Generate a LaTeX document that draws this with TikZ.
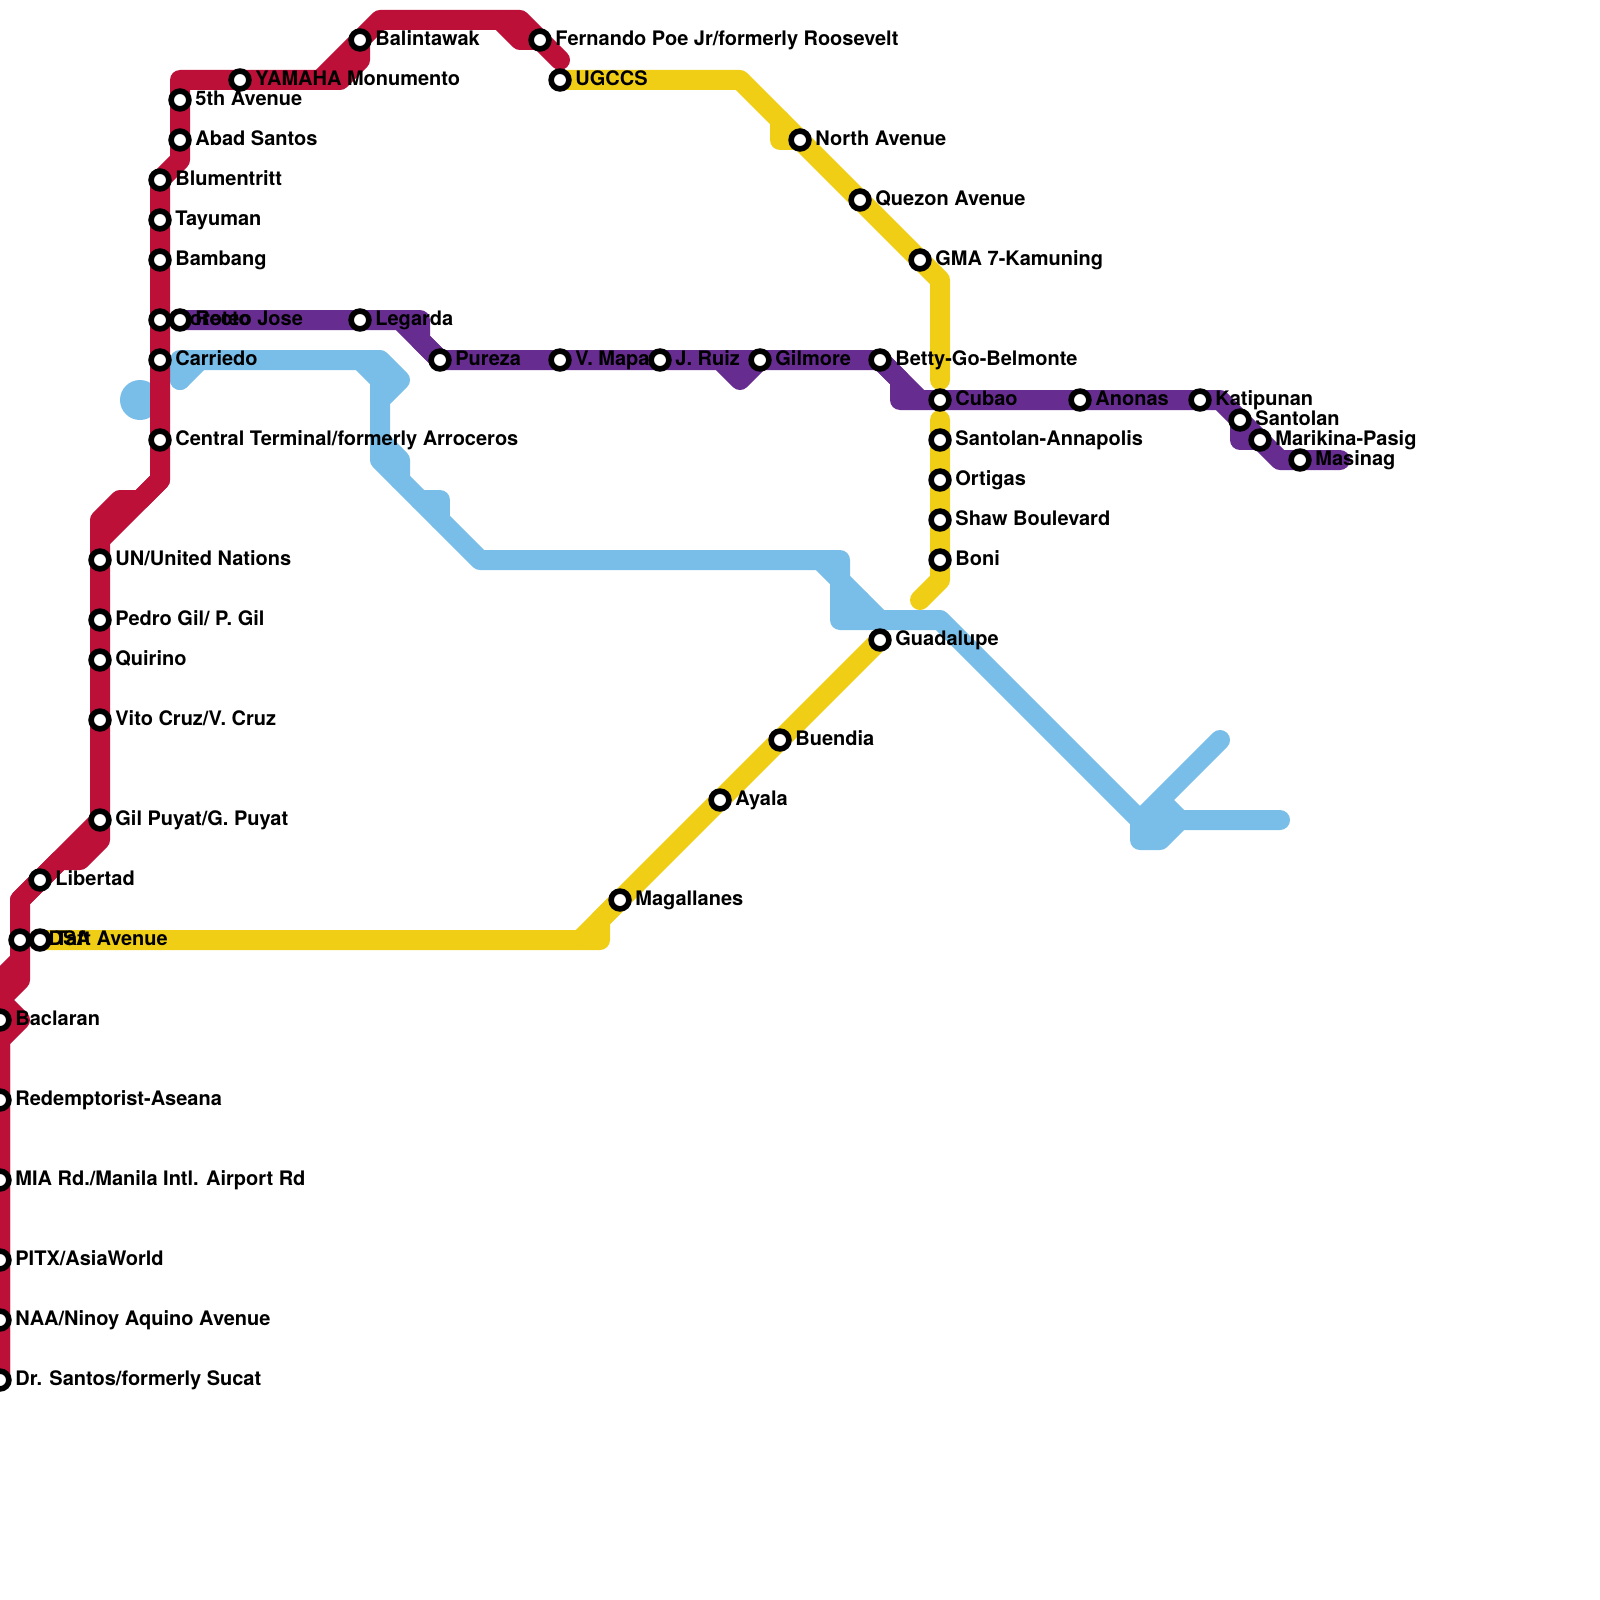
\documentclass[tikz,border=0pt]{standalone}
\usepackage{fontspec}
\setmainfont{TeX Gyre Heros}
\usepackage{tikz}
\usetikzlibrary{positioning,backgrounds}
\definecolor{lrtred}{HTML}{BD1038}
\definecolor{lrtpurple}{HTML}{662C90}
\definecolor{lrtyellow}{HTML}{F0CE15}
\definecolor{lrtblue}{HTML}{79BDE9}

\begin{document}
\begin{tikzpicture}[
  x=1pt, y=-1pt,
  node distance=3.5pt,
  stn/.style={circle, draw=black, fill=white, line width=5.6pt, minimum size=17.8pt, inner sep=0pt},
  lbl/.style={font=\fontsize{20}{22}\selectfont\bfseries, inner sep=0pt, text height=14pt, text depth=3pt},
  metro/.style={line width=20pt, line cap=round, line join=round},
  redline/.style={metro, draw=lrtred},
  purpleline/.style={metro, draw=lrtpurple},
  yellowline/.style={metro, draw=lrtyellow},
  blueline/.style={metro, draw=lrtblue},
  hubdot/.style={circle, fill=lrtblue, minimum size=40pt, inner sep=0pt}
]
\useasboundingbox (0,0) rectangle (1600,1600);

\node[stn] (baclaran) at (0,1020) {};
\node[lbl, right=of baclaran] (baclaranlbl) {Baclaran};
\node[stn] (redemptorist) at (0,1100) {};
\node[lbl, right=of redemptorist] (redemptoristlbl) {Redemptorist-Aseana};
\node[stn] (mia) at (0,1180) {};
\node[lbl, right=of mia] (mialbl) {MIA Rd./Manila Intl. Airport Rd};
\node[stn] (pitx) at (0,1260) {};
\node[lbl, right=of pitx] (pitxlbl) {PITX/AsiaWorld};
\node[stn] (naa) at (0,1320) {};
\node[lbl, right=of naa] (naalbl) {NAA/Ninoy Aquino Avenue};
\node[stn] (santos) at (0,1380) {};
\node[lbl, right=of santos] (santoslbl) {Dr. Santos/formerly Sucat};
\node[stn] (edsa) at (20,940) {};
\node[lbl, right=of edsa] (edsalbl) {EDSA};
\node[stn] (taft) at (40,940) {};
\node[lbl, right=of taft] (taftlbl) {Taft Avenue};
\node[stn] (libertad) at (40,880) {};
\node[lbl, right=of libertad] (libertadlbl) {Libertad};
\node[stn] (gilpuyat) at (100,820) {};
\node[lbl, right=of gilpuyat] (gilpuyatlbl) {Gil Puyat/G. Puyat};
\node[stn] (vitocruz) at (100,720) {};
\node[lbl, right=of vitocruz] (vitocruzlbl) {Vito Cruz/V. Cruz};
\node[stn] (quirino) at (100,660) {};
\node[lbl, right=of quirino] (quirinolbl) {Quirino};
\node[stn] (pedrogil) at (100,620) {};
\node[lbl, right=of pedrogil] (pedrogillbl) {Pedro Gil/ P. Gil};
\node[stn] (un) at (100,560) {};
\node[lbl, right=of un] (unlbl) {UN/United Nations};
\node[stn] (central) at (160,440) {};
\node[lbl, right=of central] (centrallbl) {Central Terminal/formerly Arroceros};
\node[stn] (carriedo) at (160,360) {};
\node[lbl, right=of carriedo] (carriedolbl) {Carriedo};
\node[stn] (doroteo) at (160,320) {};
\node[lbl, right=of doroteo] (doroteolbl) {Doroteo Jose};
\node[stn] (recto) at (180,320) {};
\node[lbl, right=of recto] (rectolbl) {Recto};
\node[stn] (bambang) at (160,260) {};
\node[lbl, right=of bambang] (bambanglbl) {Bambang};
\node[stn] (tayuman) at (160,220) {};
\node[lbl, right=of tayuman] (tayumanlbl) {Tayuman};
\node[stn] (blumentritt) at (160,180) {};
\node[lbl, right=of blumentritt] (blumentrittlbl) {Blumentritt};
\node[stn] (abad) at (180,140) {};
\node[lbl, right=of abad] (abadlbl) {Abad Santos};
\node[stn] (fifth) at (180,100) {};
\node[lbl, right=of fifth] (fifthlbl) {5th Avenue};
\node[stn] (yamaha) at (240,80) {};
\node[lbl, right=of yamaha] (yamahalbl) {YAMAHA Monumento};
\node[stn] (balintawak) at (360,40) {};
\node[lbl, right=of balintawak] (balintawaklbl) {Balintawak};
\node[stn] (fernando) at (540,40) {};
\node[lbl, right=of fernando] (fernandolbl) {Fernando Poe Jr/formerly Roosevelt};
\node[stn] (legarda) at (360,320) {};
\node[lbl, right=of legarda] (legardalbl) {Legarda};
\node[stn] (pureza) at (440,360) {};
\node[lbl, right=of pureza] (purezalbl) {Pureza};
\node[stn] (vmapa) at (560,360) {};
\node[lbl, right=of vmapa] (vmapalbl) {V. Mapa};
\node[stn] (jruiz) at (660,360) {};
\node[lbl, right=of jruiz] (jruizlbl) {J. Ruiz};
\node[stn] (gilmore) at (760,360) {};
\node[lbl, right=of gilmore] (gilmorelbl) {Gilmore};
\node[stn] (betty) at (880,360) {};
\node[lbl, right=of betty] (bettylbl) {Betty-Go-Belmonte};
\node[stn] (cubao) at (940,400) {};
\node[lbl, right=of cubao] (cubaolbl) {Cubao};
\node[stn] (anonas) at (1080,400) {};
\node[lbl, right=of anonas] (anonaslbl) {Anonas};
\node[stn] (katipunan) at (1200,400) {};
\node[lbl, right=of katipunan] (katipunanlbl) {Katipunan};
\node[stn] (santolan) at (1240,420) {};
\node[lbl, right=of santolan] (santolanlbl) {Santolan};
\node[stn] (marikina) at (1260,440) {};
\node[lbl, right=of marikina] (marikinalbl) {Marikina-Pasig};
\node[stn] (masinag) at (1300,460) {};
\node[lbl, right=of masinag] (masinaglbl) {Masinag};
\node[stn] (ugccs) at (560,80) {};
\node[lbl, right=of ugccs] (ugccslbl) {UGCCS};
\node[stn] (north) at (800,140) {};
\node[lbl, right=of north] (northlbl) {North Avenue};
\node[stn] (quezon) at (860,200) {};
\node[lbl, right=of quezon] (quezonlbl) {Quezon Avenue};
\node[stn] (gma) at (920,260) {};
\node[lbl, right=of gma] (gmalbl) {GMA 7-Kamuning};
\node[stn] (annapolis) at (940,440) {};
\node[lbl, right=of annapolis] (annapolislbl) {Santolan-Annapolis};
\node[stn] (ortigas) at (940,480) {};
\node[lbl, right=of ortigas] (ortigaslbl) {Ortigas};
\node[stn] (shaw) at (940,520) {};
\node[lbl, right=of shaw] (shawlbl) {Shaw Boulevard};
\node[stn] (boni) at (940,560) {};
\node[lbl, right=of boni] (bonilbl) {Boni};
\node[stn] (guadalupe) at (880,640) {};
\node[lbl, right=of guadalupe] (guadalupelbl) {Guadalupe};
\node[stn] (buendia) at (780,740) {};
\node[lbl, right=of buendia] (buendialbl) {Buendia};
\node[stn] (ayala) at (720,800) {};
\node[lbl, right=of ayala] (ayalalbl) {Ayala};
\node[stn] (magallanes) at (620,900) {};
\node[lbl, right=of magallanes] (magallaneslbl) {Magallanes};

\coordinate (r0) at (0,980);
\coordinate (r1) at (0,1000);
\coordinate (r2) at (20,1020);
\coordinate (r3) at (0,1040);
\coordinate (r4) at (20,980);
\coordinate (r5) at (20,900);
\coordinate (r6) at (60,860);
\coordinate (r7) at (80,860);
\coordinate (r8) at (100,840);
\coordinate (r9) at (100,520);
\coordinate (r10) at (120,500);
\coordinate (r11) at (140,500);
\coordinate (r12) at (160,480);
\coordinate (r13) at (180,160);
\coordinate (r14) at (180,80);
\coordinate (r15) at (340,80);
\coordinate (r16) at (360,60);
\coordinate (r17) at (380,20);
\coordinate (r18) at (520,20);
\coordinate (r19) at (560,60);
\coordinate (r20) at (20,960);
\coordinate (r21) at (100,540);
\coordinate (r22) at (320,80);
\coordinate (r23) at (500,20);
\coordinate (r24) at (520,40);

\coordinate (b0) at (180,360);
\coordinate (b1) at (180,380);
\coordinate (b2) at (200,360);
\coordinate (b3) at (360,360);
\coordinate (b4) at (380,360);
\coordinate (b5) at (400,380);
\coordinate (b6) at (380,380);
\coordinate (b7) at (380,400);
\coordinate (b8) at (380,440);
\coordinate (b9) at (400,460);
\coordinate (b10) at (400,480);
\coordinate (b11) at (380,460);
\coordinate (b12) at (420,500);
\coordinate (b13) at (440,500);
\coordinate (b14) at (440,520);
\coordinate (b15) at (480,560);
\coordinate (b16) at (820,560);
\coordinate (b17) at (840,560);
\coordinate (b18) at (840,580);
\coordinate (b19) at (880,620);
\coordinate (b20) at (840,620);
\coordinate (b21) at (940,620);
\coordinate (b22) at (1140,820);
\coordinate (b23) at (1140,840);
\coordinate (b24) at (1160,840);
\coordinate (b25) at (1180,820);
\coordinate (b26) at (1280,820);
\coordinate (b27) at (1220,740);
\coordinate (b28) at (1160,800);
\coordinate (b29) at (840,600);
\coordinate (b30) at (860,600);

\coordinate (p1) at (400,320);
\coordinate (p2) at (420,320);
\coordinate (p3) at (420,340);
\coordinate (p4) at (720,360);
\coordinate (p5) at (740,380);
\coordinate (p6) at (900,380);
\coordinate (p7) at (900,400);
\coordinate (p8) at (920,400);
\coordinate (p9) at (1220,400);
\coordinate (p10) at (1240,440);
\coordinate (p11) at (1280,460);
\coordinate (p12) at (1340,460);

\coordinate (y1) at (740,80);
\coordinate (y2) at (780,120);
\coordinate (y3) at (780,140);
\coordinate (y4) at (940,280);
\coordinate (y5) at (940,380);
\coordinate (y6) at (940,420);
\coordinate (y7) at (940,580);
\coordinate (y8) at (920,600);
\coordinate (y9) at (580,940);
\coordinate (y10) at (600,920);
\coordinate (y11) at (600,940);

\begin{scope}[on background layer]
\node[hubdot] (hub) at (140,400) {};
\draw[blueline] (b1) -- (b0) -- (b4) -- (b5) -- (b7) -- (b11) -- (b15) -- (b17) -- (b20) -- (b21) -- (b22) -- (b23) -- (b24) -- (b25) -- (b26);
\draw[blueline] (b1) -- (b2);
\draw[blueline] (b3) -- (b6) -- (b7);
\draw[blueline] (b8) -- (b9) -- (b10);
\draw[blueline] (b12) -- (b13) -- (b14);
\draw[blueline] (b16) -- (b18) -- (b19);
\draw[blueline] (b29) -- (b30);
\draw[blueline] (b27) -- (b22) -- (b25) -- (b28);
\draw[redline] (santos.center) -- (r3) -- (r2) -- (r1) -- (r4) -- (edsa.center) -- (r5) -- (libertad.center) -- (r6) -- (r7) -- (r8) -- (gilpuyat.center) -- (un.center) -- (r9) -- (r10) -- (r11) -- (r12) -- (central.center) -- (blumentritt.center) -- (r13) -- (abad.center) -- (fifth.center) -- (r14) -- (yamaha.center) -- (r15) -- (r16) -- (balintawak.center) -- (r17) -- (r18) -- (fernando.center) -- (r19);
\draw[redline] (santos.center) -- (baclaran.center) -- (r0) -- (r20);
\draw[redline] (gilpuyat.center) -- (r5);
\draw[redline] (r12) -- (r21);
\draw[redline] (r22) -- (balintawak.center);
\draw[redline] (r23) -- (r24) -- (fernando.center);
\draw[yellowline] (ugccs.center) -- (y1) -- (north.center) -- (quezon.center) -- (gma.center) -- (y4) -- (y5);
\draw[yellowline] (y2) -- (y3) -- (north.center);
\draw[yellowline] (y6) -- (boni.center) -- (y7) -- (y8);
\draw[yellowline] (guadalupe.center) -- (buendia.center) -- (ayala.center) -- (magallanes.center) -- (y9) -- (taft.center);
\draw[yellowline] (magallanes.center) -- (y10) -- (y11) -- (y9);
\draw[purpleline] (recto.center) -- (p2) -- (p3) -- (pureza.center) -- (betty.center) -- (p6) -- (p7) -- (p9) -- (p11) -- (p12);
\draw[purpleline] (p1) -- (pureza.center);
\draw[purpleline] (p4) -- (p5) -- (gilmore.center);
\draw[purpleline] (betty.center) -- (p8);
\draw[purpleline] (santolan.center) -- (p10) -- (marikina.center);
\end{scope}
\end{tikzpicture}
\end{document}
